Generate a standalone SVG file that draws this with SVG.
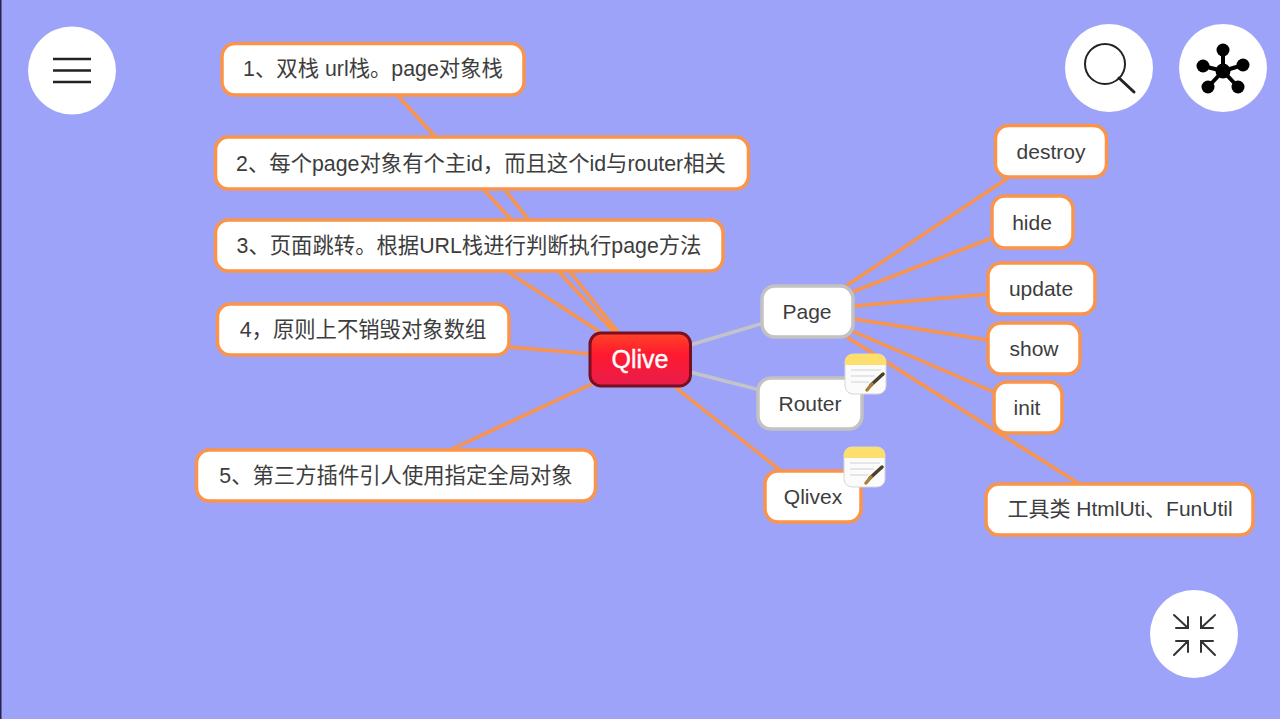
<svg xmlns="http://www.w3.org/2000/svg" width="1280" height="719" viewBox="0 0 1280 719">
<style>
text{font-family:"Liberation Sans","Noto Sans CJK SC",sans-serif;font-size:21px;fill:#3d3d3d;text-anchor:middle}
.t{font-size:21.350px}
.n{fill:#fff;stroke:#f9944a;stroke-width:3.5}
.g{fill:#fff;stroke:#c2c2c2;stroke-width:3.5}
.c{stroke:#f9944a;stroke-width:3.5;fill:none}
.cg{stroke:#c4c4c8;stroke-width:3.5;fill:none}
.b{fill:#fff}
.i{stroke:#222;fill:none;stroke-linecap:round}
</style>
<defs>
<linearGradient id="red" x1="0" y1="0" x2="0" y2="1"><stop offset="0" stop-color="#ff4426"/><stop offset=".4" stop-color="#ff1a30"/><stop offset="1" stop-color="#e81c4c"/></linearGradient>
<clipPath id="nc"><rect x="0" y="0" width="41" height="40" rx="8"/></clipPath>
<g id="note">
<rect x="0" y="0" width="41" height="40" rx="8" fill="#fbfbfb" stroke="#d6d6d6" stroke-width="1"/>
<rect x="0" y="0" width="41" height="11" fill="#fddf6d" clip-path="url(#nc)"/>
<path d="M6 16H36M6 22H30M6 28H24" stroke="#d2d2d6" stroke-width="1.200" fill="none"/>
<path d="M26 31L38 20" stroke="#4a4028" stroke-width="3.500" stroke-linecap="round"/>
<path d="M27 30L22 36" stroke="#a8803c" stroke-width="3.500" stroke-linecap="round"/>
</g>
</defs>
<rect width="1280" height="719" fill="#9da3f8"/>
<rect width="1.500" height="719" fill="#24244f"/>
<g id="connectors">
<path class="c" d="M398 96L614 332"/>
<path class="c" d="M505 190L618 332"/>
<path class="c" d="M508 272L600 332"/>
<path class="c" d="M509 347L592 354"/>
<path class="c" d="M450 450L596 382"/>
<path class="cg" d="M690 345L764 323"/>
<path class="cg" d="M690 372L760 390"/>
<path class="c" d="M676 388L780 470"/>
<path class="c" d="M846 286L1008 178"/>
<path class="c" d="M852 292L992 238"/>
<path class="c" d="M854 306L990 294"/>
<path class="c" d="M854 319L988 340"/>
<path class="c" d="M852 331L994 392"/>
<path class="c" d="M847 337L1078 483"/>
</g>
<g id="n1"><rect class="n" x="222" y="43.500" width="302" height="51.500" rx="13"/><text class="t" x="373" y="76">1、双栈 url栈。page对象栈</text></g>
<g id="n2"><rect class="n" x="215.500" y="137" width="533" height="52" rx="13"/><text class="t" x="481" y="171">2、每个page对象有个主id，而且这个id与router相关</text></g>
<g id="n3"><rect class="n" x="215.500" y="220" width="507.500" height="51" rx="13"/><text class="t" x="469" y="253">3、页面跳转。根据URL栈进行判断执行page方法</text></g>
<g id="n4"><rect class="n" x="217.500" y="304" width="291.500" height="51" rx="13"/><text class="t" x="363" y="337">4，原则上不销毁对象数组</text></g>
<g id="n5"><rect class="n" x="196.500" y="450" width="399" height="51" rx="13"/><text class="t" x="396" y="483">5、第三方插件引人使用指定全局对象</text></g>
<g id="root"><rect x="590" y="333" width="100.500" height="53" rx="11" fill="url(#red)" stroke="#7a0f22" stroke-width="3"/><text x="640" y="368" style="fill:#fff;font-size:25px;stroke:#fff;stroke-width:.4px">Qlive</text></g>
<g id="page"><rect class="g" x="762" y="286" width="91" height="51" rx="13"/><text x="807" y="319">Page</text></g>
<g id="router"><rect class="g" x="758" y="378" width="104" height="51" rx="13"/><text x="810" y="411">Router</text></g>
<use href="#note" x="845" y="354"/>
<g id="qlivex"><rect class="n" x="765" y="471" width="96" height="51" rx="13"/><text x="813" y="504">Qlivex</text></g>
<use href="#note" x="844" y="447"/>
<g id="destroy"><rect class="n" x="995.500" y="125.500" width="111" height="51.500" rx="13"/><text x="1051" y="159">destroy</text></g>
<g id="hide"><rect class="n" x="992" y="196" width="81" height="52" rx="13"/><text x="1032" y="230">hide</text></g>
<g id="update"><rect class="n" x="988" y="263" width="107" height="51" rx="13"/><text x="1041" y="296">update</text></g>
<g id="show"><rect class="n" x="988" y="323" width="92" height="51" rx="13"/><text x="1034" y="356">show</text></g>
<g id="init"><rect class="n" x="994" y="382" width="68" height="51" rx="13"/><text x="1027" y="415">init</text></g>
<g id="tool"><rect class="n" x="986" y="484" width="267" height="51" rx="13"/><text x="1120" y="516">工具类 HtmlUti、FunUtil</text></g>
<g id="menu"><circle class="b" cx="72" cy="70.500" r="44"/><path d="M53 59H91M53 70.500H91M53 82H91" stroke="#222" stroke-width="2.500" fill="none"/></g>
<g id="search"><circle class="b" cx="1109" cy="68" r="44"/><circle class="i" cx="1105" cy="64" r="20" stroke-width="2"/><path class="i" d="M1119 78L1134 92" stroke-width="3"/></g>
<g id="map"><circle class="b" cx="1223" cy="68" r="44"/>
<path d="M1223 71V50M1223 71L1203 66M1223 71L1243 65M1223 71L1208 87M1223 71L1238 87" stroke="#000" stroke-width="4"/>
<circle cx="1223" cy="71" r="7.500"/><circle cx="1223" cy="50" r="6.500"/><circle cx="1203" cy="66" r="6.500"/><circle cx="1243" cy="65" r="6.500"/><circle cx="1208" cy="87" r="6.500"/><circle cx="1238" cy="87" r="6.500"/></g>
<g id="collapse"><circle class="b" cx="1194" cy="634" r="44"/>
<path class="i" stroke-width="2" style="stroke:#333" d="M1174 615L1188 628M1188 617V628H1176M1215 615L1201 628M1201 617V628H1213M1174 655L1188 641M1176 641H1188V652M1215 655L1201 641M1213 641H1201V652"/></g>
</svg>
